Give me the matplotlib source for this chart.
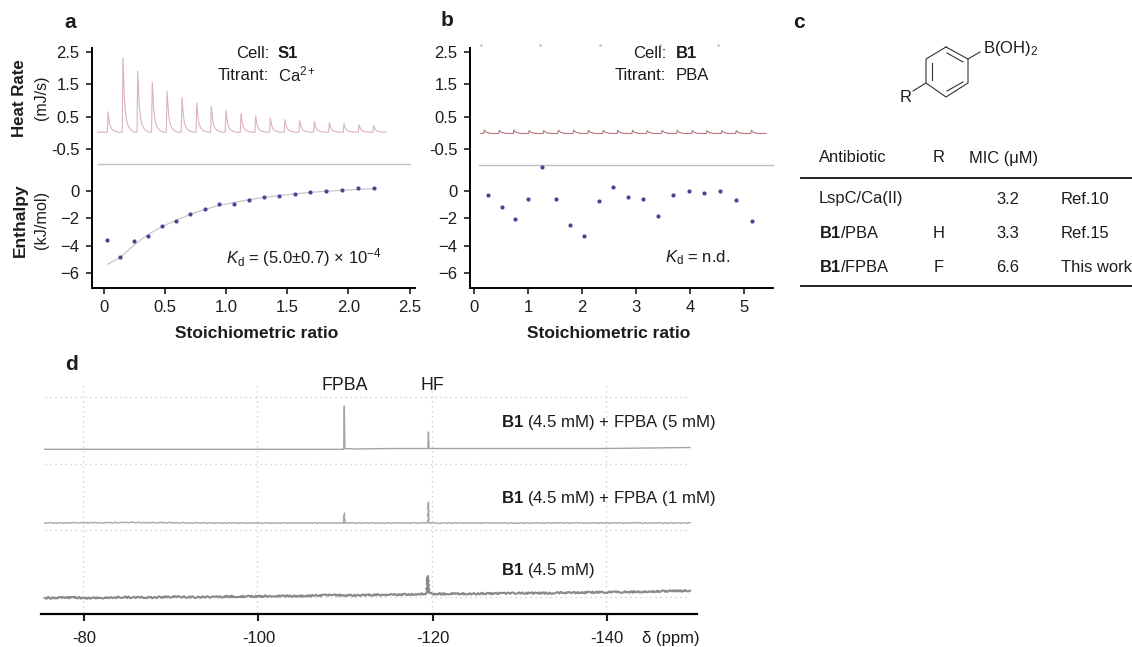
import matplotlib
matplotlib.use("Agg")
import matplotlib.pyplot as plt
import numpy as np

plt.rcParams.update({
    "font.family": ["Liberation Sans", "DejaVu Sans"],
    "mathtext.fontset": "custom",
    "mathtext.rm": "Liberation Sans",
    "mathtext.it": "Liberation Sans:italic",
    "mathtext.bf": "Liberation Sans:bold",
    "axes.linewidth": 1.4,
})

W, H = 1132, 647
TXT = "#1c1c1c"
PINK = "#dcb4b8"
RED = "#b5777c"
SEP = "#c4bfc0"
DOT = "#4a4496"
FIT = "#c9c6c8"

# ---- panel a -----
a_peak_x = [.033, .155, .276, .395, .516, .638, .759, .878, .998, 1.121, 1.241, 1.361, 1.481, 1.601, 1.721, 1.844, 1.964, 2.087, 2.207]
a_peak_y = [.65, 2.32, 1.91, 1.57, 1.29, 1.10, .93, .82, .69, .60, .52, .45, .41, .38, .35, .32, .29, .25, .22]
a_base = 0.02
a_trace_range = [-0.05, 2.31]
a_x = [.025, .134, .246, .358, .473, .590, .707, .825, .945, 1.063, 1.189, 1.309, 1.434, 1.560, 1.686, 1.817, 1.948, 2.082, 2.213]
a_y = [-3.56, -4.85, -3.63, -3.27, -2.59, -2.22, -1.68, -1.32, -.98, -.93, -.63, -.41, -.37, -.24, -.10, .02, .10, .20, .22]
a_fit_x = [.03, .134, .246, .358, .473, .59, .707, .825, .945, 1.063, 1.189, 1.309, 1.434, 1.56, 1.686, 1.817, 1.948, 2.082, 2.213]
a_fit_y = [-5.35, -4.85, -3.95, -3.2, -2.6, -2.15, -1.7, -1.35, -1.05, -.85, -.63, -.47, -.33, -.22, -.1, -.02, .05, .12, .17]

# ---- panel b -----
b_peak_x = [.185, .464, .735, 1.014, 1.286, 1.557, 1.842, 2.114, 2.386, 2.658, 2.93, 3.2, 3.48, 3.758, 4.036, 4.308, 4.586, 4.852, 5.13]
b_peak_y = [.09, .08, .09, .07, .07, .08, .09, .08, .08, .08, .08, .07, .08, .08, .07, .07, .07, .07, .08]
b_base = -0.02
b_trace_range = [.117, 5.4]
b_x = [.26, .507, .754, 1.0, 1.255, 1.514, 1.78, 2.04, 2.305, 2.577, 2.843, 3.115, 3.4, 3.684, 3.968, 4.253, 4.55, 4.84, 5.136]
b_y = [-.27, -1.15, -2.02, -.56, 1.76, -.56, -2.46, -3.27, -.73, .27, -.46, -.56, -1.83, -.32, .02, -.17, .02, -.66, -2.17]
b_top_marks = [.117, 1.22, 2.32, 3.43, 4.52]

# shape of one injection
a_shape_dx = [-.006, 0, .006, .012, .02, .03, .045, .065, .09]
a_shape_fr = [0, 1, .72, .45, .28, .16, .08, .03, 0]
b_shape_dx = [-.012, 0, .02, .04, .07, .1, .14]
b_shape_fr = [0, 1, .6, .35, .2, .08, 0]

heat_ticks = [2.5, 1.5, .5, -.5]
enth_ticks = [0, -2, -4, -6]
a_xticks = [0, .5, 1, 1.5, 2, 2.5]
a_xlabels = ["0", "0.5", "1.0", "1.5", "2.0", "2.5"]
b_xticks = [0, 1, 2, 3, 4, 5]

# ---- panel d -----
d_ticks = [-80, -100, -120, -140]
d_hgrid = [217, 150, 84, 17]
d_top_x = [-75.5, -105, -109.78, -109.85, -109.92, -111, -115, -119.43, -119.5, -119.57, -125, -135, -140, -149.5]
d_top_y = [164.7, 164.7, 164.7, 208, 165.5, 165, 165.5, 165.5, 182, 165.5, 165.5, 165.5, 165.5, 166.5]
d_mid_x = [-75.5, -85, -95, -105, -109.78, -109.85, -109.92, -115, -119.43, -119.5, -119.57, -130, -140, -149.5]
d_mid_y = [91, 91.5, 91, 91, 91, 101, 91, 91, 91, 112, 91, 91, 91, 91]
d_bot_x = [-75.5, -78, -81, -84, -87, -90, -93, -96, -99, -102, -105, -108, -111, -114, -117, -119.1, -119.3, -119.42, -119.55, -120.0, -123, -126, -129, -132, -135, -138, -141, -144, -147, -149.5]
d_bot_y = [16, 16.5, 16, 16.8, 16.4, 17.2, 16.8, 17.4, 17.6, 18, 18, 18.8, 18.6, 19.2, 19.6, 20, 21, 38, 21, 20, 20.2, 20.4, 20.8, 20.8, 21.2, 21.6, 21.8, 22.2, 23, 23.2]
d_labels = ["(4.5 mM) + FPBA (5 mM)", "(4.5 mM) + FPBA (1 mM)", "(4.5 mM)"]
d_label_y = [423, 498, 570]

# ---- panel c -----
tbl_head = ["Antibiotic", "R", "MIC (μM)"]
tbl_names = ["LspC/Ca(II)", "B1/PBA", "B1/FPBA"]
tbl_r = ["", "H", "F"]
tbl_mic = ["3.2", "3.3", "6.6"]
tbl_ref = ["Ref.10", "Ref.15", "This work"]

fig = plt.figure(figsize=(W / 100, H / 100), dpi=100, facecolor="white")


def axpx(l, t, r, b):
    return fig.add_axes([l / W, 1 - b / H, (r - l) / W, (b - t) / H], facecolor="none")


def heat_trace(px, py, base, rng, sdx, sfr):
    xs, ys = [rng[0]], [base]
    for x0, y0 in zip(px, py):
        for dx, fr in zip(sdx, sfr):
            xs.append(x0 + dx)
            ys.append(base + (y0 - base) * fr)
    xs.append(rng[1])
    ys.append(base)
    return xs, ys


def panel(left, right, x0, xscale, sep_top, px, py, base, rng, sdx, sfr, ex, ey, col, xticks, xlabels, sep_range):
    xlim = ((left - x0) / xscale, (right - x0) / xscale)
    up = axpx(left, 48, right, sep_top)
    up.set_xlim(*xlim)
    up.set_ylim(2.5 - (sep_top - 52) / 32.33, 2.5 + 4 / 32.33)
    for s in ("top", "right"):
        up.spines[s].set_visible(False)
    up.spines["bottom"].set_color(SEP)
    up.spines["bottom"].set_linewidth(1.0)
    up.spines["bottom"].set_bounds(*sep_range)
    up.set_xticks([])
    up.set_yticks(heat_ticks)
    up.set_yticklabels(["2.5", "1.5", "0.5", "-0.5"])
    tx, ty = heat_trace(px, py, base, rng, sdx, sfr)
    up.plot(tx, ty, color=col, lw=0.8)

    lo = axpx(left, sep_top, right, 288)
    lo.set_xlim(*xlim)
    lo.set_ylim(-(288 - 191) / 13.67, (191 - sep_top) / 13.67)
    for s in ("top", "right"):
        lo.spines[s].set_visible(False)
    lo.set_yticks(enth_ticks)
    lo.set_xticks(xticks)
    lo.set_xticklabels(xlabels)
    lo.scatter(ex, ey, s=9, color=DOT, zorder=3, linewidths=0)
    for ax in (up, lo):
        ax.tick_params(length=4, width=1.2, labelsize=12, colors=TXT, pad=5)
    lo.tick_params(axis="x", pad=5)
    return up, lo


up_a, lo_a = panel(92, 415, 104, 122.2, 164, a_peak_x, a_peak_y, a_base, a_trace_range,
                   a_shape_dx, a_shape_fr, a_x, a_y, PINK, a_xticks, a_xlabels, (-0.05, 2.5))
lo_a.plot(a_fit_x, a_fit_y, color=FIT, lw=0.9, zorder=2)

up_b, lo_b = panel(470, 773, 474.3, 54, 165, b_peak_x, b_peak_y, b_base, b_trace_range,
                   b_shape_dx, b_shape_fr, b_x, b_y, RED, b_xticks, [str(v) for v in b_xticks], (0.09, 5.53))
up_b.plot(b_top_marks, [2.72] * len(b_top_marks), ls="none", marker="s", ms=0.8,
          color="#c0c0c0", clip_on=False)

# panel d
axd = axpx(41, 385, 697, 614)
axd.set_xlim(-80 + (84 - 41) / 8.72, -80 - (697 - 84) / 8.72)
axd.set_ylim(0, 229)
for s in ("top", "right", "left"):
    axd.spines[s].set_visible(False)
axd.spines["bottom"].set_linewidth(1.6)
axd.set_yticks([])
axd.set_xticks(d_ticks)
axd.set_xticklabels([str(v) for v in d_ticks])
axd.tick_params(axis="x", length=5, width=1.5, labelsize=12, colors=TXT, pad=7)
for v in d_ticks:
    axd.plot([v + 0.12, v + 0.12], [7, 229], color="#c8c8c8", lw=0.9, ls=(0, (1, 3)))
for y in d_hgrid:
    axd.plot([-75.5, -149.5], [y, y], color="#c8c8c8", lw=0.9, ls=(0, (1, 3)))
axd.plot(d_top_x, d_top_y, color="#a4a4a4", lw=1.0)
mid_line, = axd.plot(d_mid_x, d_mid_y, color="#a8a8a8", lw=1.0)
mid_line.set_sketch_params(scale=0.4, length=6, randomness=3)
bot_line, = axd.plot(d_bot_x, d_bot_y, color="#8a8a8a", lw=1.5)
bot_line.set_sketch_params(scale=0.8, length=4, randomness=3)

# overlay in pixel coordinates for annotations
ov = fig.add_axes([0, 0, 1, 1], facecolor="none")
ov.set_xlim(0, W)
ov.set_ylim(H, 0)
ov.axis("off")


def t(x, y, s, ha="left", size=12, weight="normal", rot=0):
    ov.text(x, y, s, ha=ha, va="center", fontsize=size, fontweight=weight, rotation=rot, color=TXT)


for x, y, s in [(70, 22, "a"), (447, 21, "b"), (799, 22, "c"), (71, 365, "d")]:
    t(x, y, s, ha="center", size=15, weight="bold")

for yc, bold, bs, sub, ss in [(98, "Heat Rate", 12.2, "(mJ/s)", 11.5), (220, "Enthalpy", 12.5, "(kJ/mol)", 11.7)]:
    t(20, yc, bold, ha="center", size=bs, weight="bold", rot=90)
    t(42, yc, sub, ha="center", size=ss, rot=90)

t(257, 333, "Stoichiometric ratio", ha="center", size=12.5, weight="bold")
t(609, 333, "Stoichiometric ratio", ha="center", size=12.5, weight="bold")

t(269, 53, "Cell:", ha="right")
t(278, 53, "S1", weight="bold")
t(269, 75, "Titrant:", ha="right")
t(278, 74, r"Ca$^{2+}$")
t(666, 53, "Cell:", ha="right")
t(676, 53, "B1", weight="bold")
t(666, 75, "Titrant:", ha="right")
t(676, 75, "PBA")
t(226, 258, r"$\mathit{K}_{\mathrm{d}}$ = (5.0±0.7) × 10$^{−4}$")
t(665, 258, r"$\mathit{K}_{\mathrm{d}}$ = n.d.")

t(345, 386, "FPBA", ha="center", size=12.8)
t(432, 386, "HF", ha="center", size=12.8)
for s, y in zip(d_labels, d_label_y):
    t(501, y, r"$\mathbf{B1}$ " + s, size=12.1)
t(642, 638, "δ (ppm)")

# table
TS = 11.9
for x, s, ha in zip([819, 939, 969], tbl_head, ["left", "center", "left"]):
    t(x, 158, s, ha=ha, size=TS)
ov.plot([801, 1132], [178, 178], color="#222222", lw=1.4)
ov.plot([801, 1132], [286, 286], color="#222222", lw=1.4)
for y, n, r, m, f in zip([199, 233, 267], tbl_names, tbl_r, tbl_mic, tbl_ref):
    if n.startswith("B1"):
        n = r"$\mathbf{B1}$" + n[2:]
    t(819, y, n, size=TS)
    t(939, y, r, ha="center", size=TS)
    t(996, y, m, size=TS)
    t(1061, y, f, size=TS)

# structure
ring_x = [946, 968, 968, 946, 926, 926, 946]
ring_y = [47, 59, 83, 97, 83, 59, 47]
ov.plot(ring_x, ring_y, color="#333333", lw=0.8)
for xs, ys in [([932, 932], [63, 80]), ([947, 963], [53, 62]), ([947, 963], [91, 82])]:
    ov.plot(xs, ys, color="#333333", lw=0.8)
ov.plot([968, 980], [59, 52], color="#333333", lw=0.8)
ov.plot([926, 913], [83, 91], color="#333333", lw=0.8)
t(983, 48, r"B(OH)$_{2}$")
t(906, 97, "R", ha="center")

fig.savefig("out.png", dpi=100)
